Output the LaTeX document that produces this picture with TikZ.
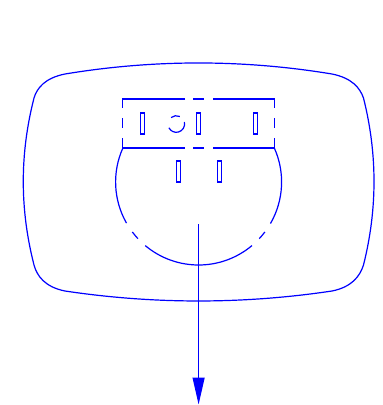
\documentclass[tikz,border=0pt]{standalone}
\usetikzlibrary{arrows.meta}
\tikzset{
  plug/.style={draw=blue,line width=1.2pt},
  pin/.style={draw=blue,line width=1.2pt}
}
\begin{document}
\begin{tikzpicture}[x=1pt,y=-1pt]
\useasboundingbox (0,0) rectangle (383,405);
% outer body
\draw [plug] (65,74) .. controls (154,59.3) and (243,59.3) .. (332,74)
  .. controls (352,78) and (360,88) .. (363.5,98)
  .. controls (377.5,154) and (377.5,209) .. (363.5,265)
  .. controls (360,276) and (352,287) .. (332,291)
  .. controls (243,304.3) and (154,304.3) .. (65,291)
  .. controls (45,287) and (37,276) .. (34,265)
  .. controls (19.7,209) and (19.7,154) .. (34,98)
  .. controls (37,88) and (45,78) .. (65,74) -- cycle;
% upper box
\draw [plug] (185,99) -- (122.7,99) -- (122.7,108);
\draw [plug] (122.7,118) -- (122.7,128);
\draw [plug] (122.7,138) -- (122.7,148) -- (185,148);
\draw [plug] (193,99) -- (204,99);
\draw [plug] (193,148) -- (204,148);
\draw [plug] (213,99) -- (274.4,99) -- (274.4,108);
\draw [plug] (274.4,118) -- (274.4,128);
\draw [plug] (274.4,138) -- (274.4,148) -- (213,148);
% pins
\draw [pin] (140.2,113) rectangle (144.2,134);
\draw [pin] (196.8,113) rectangle (200.8,134);
\draw [pin] (253.5,113) rectangle (257.5,134);
\draw [pin] (176.2,161) rectangle (180.2,182);
\draw [pin] (217.5,161) rectangle (221.5,182);
% small circle
\coordinate (hole) at (176.3,124);
\draw [plug] ([shift={(-65:8.3)}]hole) arc (-65:-129:8.3);
\draw [plug] ([shift={(-14:8.3)}]hole) arc (-14:153:8.3);
% big circle
\coordinate (bigc) at (198.6,182);
\draw [plug] ([shift={(-156:83)}]bigc) arc (-156:-209.7:83);
\draw [plug] ([shift={(-217:83)}]bigc) arc (-217:-223:83);
\draw [plug] ([shift={(-230:83)}]bigc) arc (-230:-310:83);
\draw [plug] ([shift={(-317:83)}]bigc) arc (-317:-323:83);
\draw [plug] ([shift={(-330:83)}]bigc) arc (-330:-384:83);
% axis
\coordinate (shaft) at (198.6,224);
\coordinate (tip) at (198.6,404.5);
\draw [plug,-{Triangle[length=27pt,width=12pt,fill=blue]}] (shaft) -- (tip);
\end{tikzpicture}
\end{document}
